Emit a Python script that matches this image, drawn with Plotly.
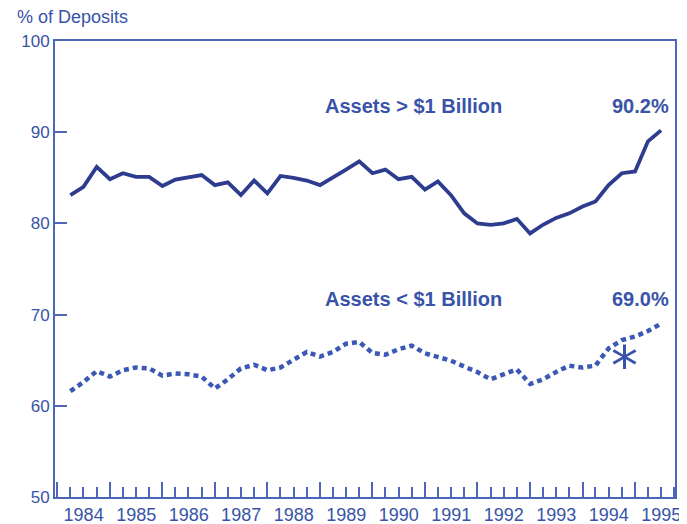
import pandas as pd
import plotly.graph_objects as go

quarters = pd.date_range("1984-04-01", periods=46, freq="QS")

large_banks = [83.1, 84.0, 86.2, 84.85, 85.5, 85.1, 85.1, 84.1, 84.8, 85.0,
               85.3, 84.2, 84.5, 83.1, 84.7, 83.3, 85.2, 85.0, 84.7, 84.2,
               85.0, 85.9, 86.8, 85.5, 85.9, 84.85, 85.1, 83.7, 84.6, 83.1,
               81.1, 80.0, 79.85, 80.0, 80.5, 78.9, 79.85, 80.6, 81.1, 81.85,
               82.4, 84.2, 85.5, 85.7, 89.0, 90.2]

small_banks = [61.6, 62.6, 63.8, 63.2, 63.9, 64.2, 64.1, 63.3, 63.55, 63.45,
               63.2, 61.9, 62.9, 64.1, 64.5, 63.9, 64.2, 65.1, 65.9, 65.4,
               65.9, 66.8, 67.0, 65.8, 65.6, 66.2, 66.6, 65.75, 65.3, 64.95,
               64.3, 63.7, 62.9, 63.5, 64.0, 62.4, 62.9, 63.7, 64.4, 64.2,
               64.4, 66.3, 67.2, 67.6, 68.2, 69.0]

series_names = ["Assets > $1 Billion", "Assets < $1 Billion"]
y_ticks = [50, 60, 70, 80, 90, 100]

TEXT = "#3853a8"
AXIS = "#4d66b8"
FONT = "Liberation Sans, Arial, sans-serif"

fig = go.Figure()
fig.add_trace(go.Scatter(x=quarters, y=large_banks, mode="lines",
                         line=dict(color="#2d3c8e", width=3.8),
                         name=series_names[0], showlegend=False))
fig.add_trace(go.Scatter(x=quarters, y=small_banks, mode="lines",
                         line=dict(color="#3a58b4", width=4.5, dash="5px,4px"),
                         name=series_names[1], showlegend=False))

ann_font = dict(family=FONT, size=20, color=TEXT)
fig.add_annotation(xref="paper", yref="y", x=0.579, y=92.85, text="<b>" + series_names[0] + "</b>",
                   showarrow=False, font=ann_font, xanchor="center", yanchor="middle")
fig.add_annotation(xref="paper", yref="y", x=0.945, y=92.85, text="<b>%.1f%%</b>" % large_banks[-1],
                   showarrow=False, font=ann_font, xanchor="center", yanchor="middle")
fig.add_annotation(xref="paper", yref="y", x=0.579, y=71.7, text="<b>" + series_names[1] + "</b>",
                   showarrow=False, font=ann_font, xanchor="center", yanchor="middle")
fig.add_annotation(xref="paper", yref="y", x=0.945, y=71.7, text="<b>%.1f%%</b>" % small_banks[-1],
                   showarrow=False, font=ann_font, xanchor="center", yanchor="middle")
fig.add_annotation(xref="paper", yref="y", x=0.919, y=64.4, text="*",
                   showarrow=False, font=dict(family="DejaVu Sans", size=54, color=TEXT),
                   xanchor="center", yanchor="middle")

fig.update_layout(
    width=679, height=516,
    margin=dict(l=47, r=12, t=33, b=27, autoexpand=False),
    paper_bgcolor="white", plot_bgcolor="white",
    font=dict(family=FONT, size=16, color=TEXT),
    title=dict(text="% of Deposits", x=0.0133, xanchor="left", y=0.983, yanchor="middle",
               font=dict(family=FONT, size=18, color=TEXT), automargin=False),
    xaxis=dict(
        type="date", automargin=False,
        range=["1983-12-16", "1995-10-06"],
        dtick="M12", tick0="1984-01-01", tickformat="%Y",
        ticklabelmode="period",
        ticks="inside", ticklen=15, tickwidth=1.5, tickcolor=AXIS,
        minor=dict(dtick="M3", tick0="1984-01-01", ticks="inside", ticklen=10,
                   tickwidth=1.5, tickcolor=AXIS, showgrid=False),
        showgrid=False, zeroline=False,
        showline=True, linecolor=AXIS, linewidth=2, mirror=True,
        tickfont=dict(family=FONT, size=18, color=TEXT),
    ),
    yaxis=dict(
        range=[50, 100], automargin=False,
        tickvals=y_ticks,
        ticks="inside", ticklen=12, tickwidth=1.5, tickcolor=AXIS,
        showgrid=False, zeroline=False,
        showline=True, linecolor=AXIS, linewidth=2, mirror=True,
        tickfont=dict(family=FONT, size=17, color=TEXT),
    ),
)

fig.write_html("out.html")
